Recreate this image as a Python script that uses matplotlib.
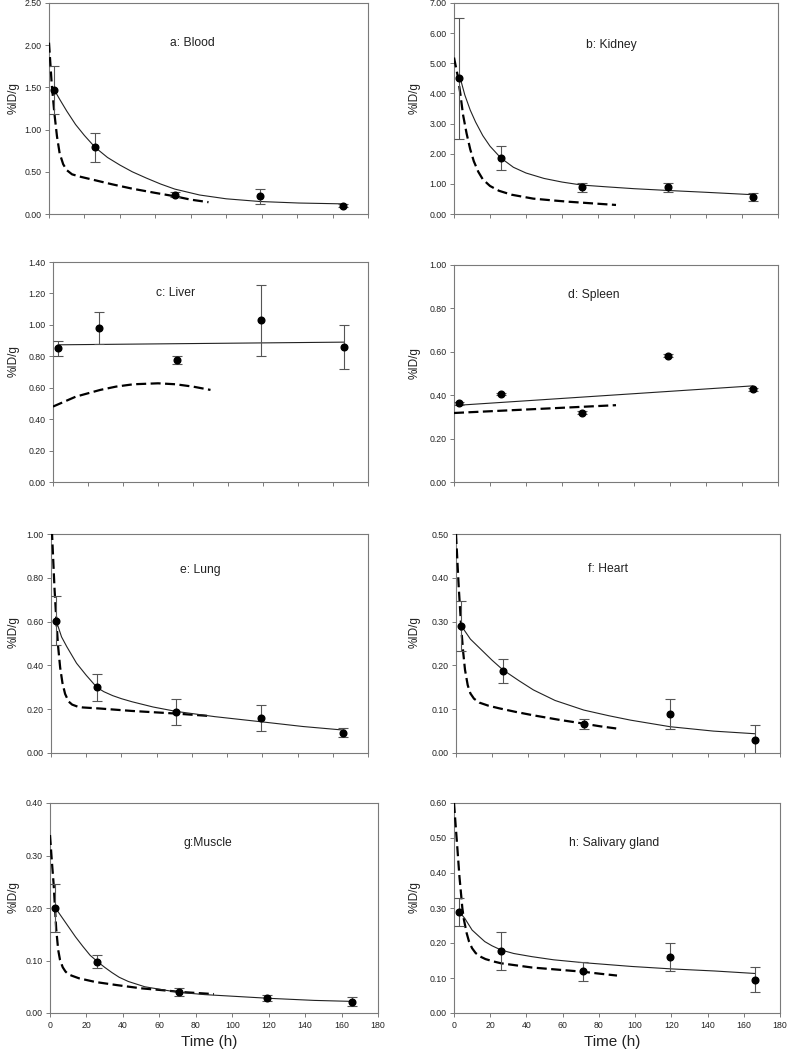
import matplotlib
matplotlib.use('Agg')
import matplotlib.pyplot as plt
from matplotlib.ticker import FormatStrFormatter, MultipleLocator

plt.rcParams['font.family'] = ['Liberation Sans', 'DejaVu Sans']

# ---------------- data ----------------
time_h = [3, 26, 71, 119, 166]
x_ticks = [0, 20, 40, 60, 80, 100, 120, 140, 160, 180]

panel_titles = ['a: Blood', 'b: Kidney', 'c: Liver', 'd: Spleen',
                'e: Lung', 'f: Heart', 'g:Muscle', 'h: Salivary gland']
y_max = [2.5, 7.0, 1.4, 1.0, 1.0, 0.5, 0.4, 0.6]
y_step = [0.5, 1.0, 0.2, 0.2, 0.2, 0.1, 0.1, 0.1]

# measured means and SD
blood_mean = [1.47, 0.79, 0.23, 0.21, 0.10]
blood_sd = [0.28, 0.17, 0.03, 0.09, 0.02]
kidney_mean = [4.50, 1.86, 0.89, 0.88, 0.57]
kidney_sd = [2.00, 0.41, 0.15, 0.15, 0.14]
liver_mean = [0.85, 0.98, 0.775, 1.03, 0.86]
liver_sd = [0.05, 0.10, 0.025, 0.225, 0.14]
spleen_mean = [0.363, 0.406, 0.320, 0.582, 0.427]
spleen_sd = [0.006, 0.006, 0.006, 0.006, 0.006]
lung_mean = [0.603, 0.300, 0.188, 0.160, 0.093]
lung_sd = [0.112, 0.063, 0.058, 0.058, 0.020]
heart_mean = [0.290, 0.187, 0.066, 0.089, 0.029]
heart_sd = [0.056, 0.027, 0.012, 0.034, 0.034]
muscle_mean = [0.200, 0.098, 0.040, 0.029, 0.0215]
muscle_sd = [0.046, 0.012, 0.007, 0.006, 0.009]
salivary_mean = [0.289, 0.177, 0.119, 0.160, 0.095]
salivary_sd = [0.040, 0.054, 0.027, 0.040, 0.036]

# fitted curve (solid)
blood_fit_t = [3, 6, 10, 15, 20, 26, 33, 40, 47, 55, 63, 71, 85, 100, 119, 141, 166]
blood_fit_y = [1.47, 1.36, 1.22, 1.06, 0.93, 0.79, 0.67, 0.58, 0.50, 0.425, 0.355, 0.295,
               0.225, 0.18, 0.148, 0.13, 0.12]
kidney_fit_t = [3.5, 6, 9, 12, 16, 20, 26, 33, 40, 50, 60, 71, 85, 100, 119, 140, 166]
kidney_fit_y = [4.5, 3.95, 3.45, 3.05, 2.6, 2.25, 1.86, 1.55, 1.36, 1.18, 1.06, 0.96,
                0.90, 0.84, 0.78, 0.72, 0.64]
liver_fit_t = [3, 166]
liver_fit_y = [0.873, 0.890]
spleen_fit_t = [3, 166]
spleen_fit_y = [0.354, 0.443]
lung_fit_t = [3, 6, 9, 14.5, 20, 26, 30, 35, 40, 46, 58, 71, 93, 120, 143, 167]
lung_fit_y = [0.603, 0.53, 0.485, 0.41, 0.355, 0.30, 0.28, 0.262, 0.248, 0.234, 0.21,
              0.19, 0.166, 0.142, 0.121, 0.104]
heart_fit_t = [3, 8, 15, 20, 26, 35, 43, 55, 71, 85, 97, 119, 143, 166]
heart_fit_y = [0.29, 0.26, 0.232, 0.212, 0.19, 0.165, 0.144, 0.12, 0.098, 0.085, 0.075,
               0.060, 0.050, 0.044]
muscle_fit_t = [3, 7, 11, 14, 18, 22, 26, 30, 34, 38, 43, 52, 64, 72, 85, 100, 120, 145, 167]
muscle_fit_y = [0.2, 0.18, 0.16, 0.145, 0.127, 0.11, 0.098, 0.087, 0.077, 0.068, 0.06,
                0.05, 0.043, 0.039, 0.035, 0.032, 0.028, 0.024, 0.022]
salivary_fit_t = [3, 6, 10, 14, 17, 21, 26, 33, 43, 55, 71, 98, 120, 144, 166]
salivary_fit_y = [0.289, 0.27, 0.237, 0.218, 0.204, 0.192, 0.18, 0.17, 0.161, 0.152,
                  0.144, 0.133, 0.126, 0.120, 0.113]

# predicted curve (dashed)
blood_pred_t = [0, 1.5, 3, 4.5, 6, 8, 10, 13, 18, 26, 36, 47, 60, 71, 80, 90]
blood_pred_y = [2.03, 1.55, 1.2, 0.92, 0.72, 0.59, 0.52, 0.47, 0.44, 0.40, 0.35, 0.30,
                0.25, 0.21, 0.17, 0.14]
kidney_pred_t = [0, 2, 3.5, 5, 7, 9, 11, 13.5, 16, 20, 25, 32, 44, 55, 63, 75, 90]
kidney_pred_y = [5.19, 4.6, 4.0, 3.3, 2.67, 2.15, 1.75, 1.4, 1.15, 0.93, 0.77, 0.64,
                 0.51, 0.45, 0.41, 0.36, 0.30]
liver_pred_t = [0, 13, 27, 36, 46, 60, 70, 80, 90]
liver_pred_y = [0.48, 0.543, 0.586, 0.607, 0.622, 0.628, 0.622, 0.607, 0.586]
spleen_pred_t = [0, 90]
spleen_pred_y = [0.318, 0.354]
lung_pred_t = [0, 0.6, 2, 3, 4, 5.2, 6.5, 8, 10, 12, 15, 18, 28, 46, 71, 90]
lung_pred_y = [1.15, 1.0, 0.75, 0.61, 0.49, 0.39, 0.32, 0.27, 0.235, 0.221, 0.212,
               0.208, 0.203, 0.192, 0.18, 0.169]
heart_pred_t = [0, 1.5, 3, 4, 5, 6.5, 8, 10, 13, 18, 24, 33, 43, 57, 71, 80, 89]
heart_pred_y = [0.5, 0.38, 0.28, 0.23, 0.19, 0.155, 0.136, 0.124, 0.115, 0.108, 0.102,
                0.094, 0.086, 0.076, 0.067, 0.061, 0.056]
muscle_pred_t = [0, 1, 2, 3.4, 4.5, 5.5, 7, 8.5, 10, 12, 16, 25, 37, 50, 60, 72, 90]
muscle_pred_y = [0.339, 0.29, 0.245, 0.16, 0.12, 0.101, 0.087, 0.079, 0.074, 0.071,
                 0.066, 0.059, 0.053, 0.047, 0.044, 0.040, 0.036]
salivary_pred_t = [0, 1, 1.8, 3, 3.7, 4.6, 5.5, 7, 8.3, 10, 12, 15, 17.4, 22, 26, 43, 57,
                   71, 81, 90]
salivary_pred_y = [0.6, 0.53, 0.475, 0.39, 0.351, 0.30, 0.266, 0.228, 0.204, 0.185,
                   0.171, 0.16, 0.154, 0.147, 0.142, 0.130, 0.124, 0.118, 0.112, 0.107]

means = [blood_mean, kidney_mean, liver_mean, spleen_mean,
         lung_mean, heart_mean, muscle_mean, salivary_mean]
sds = [blood_sd, kidney_sd, liver_sd, spleen_sd, lung_sd, heart_sd, muscle_sd, salivary_sd]
fits = [(blood_fit_t, blood_fit_y), (kidney_fit_t, kidney_fit_y),
        (liver_fit_t, liver_fit_y), (spleen_fit_t, spleen_fit_y),
        (lung_fit_t, lung_fit_y), (heart_fit_t, heart_fit_y),
        (muscle_fit_t, muscle_fit_y), (salivary_fit_t, salivary_fit_y)]
preds = [(blood_pred_t, blood_pred_y), (kidney_pred_t, kidney_pred_y),
         (liver_pred_t, liver_pred_y), (spleen_pred_t, spleen_pred_y),
         (lung_pred_t, lung_pred_y), (heart_pred_t, heart_pred_y),
         (muscle_pred_t, muscle_pred_y), (salivary_pred_t, salivary_pred_y)]

# ---------------- layout (pixel boxes: left, top, right, bottom) ----------------
W, H = 790, 1050
boxes = [(49, 3, 368, 214), (454, 3, 778, 214),
         (53, 262, 368, 482), (454, 265, 778, 482),
         (51, 534, 368, 753), (456, 534, 780, 753),
         (50, 803, 378, 1013), (454, 803, 780, 1013)]
title_pos = [(0.45, 0.81), (0.485, 0.80), (0.39, 0.86), (0.43, 0.86),
             (0.47, 0.835), (0.47, 0.84), (0.48, 0.81), (0.49, 0.81)]
ylabel_px = [14, 415]

fig = plt.figure(figsize=(W / 100, H / 100), dpi=100)
spine_col = '#7a7a7a'
txt_col = '#222222'

for i in range(8):
    l, t, r, b = boxes[i]
    ax = fig.add_axes([l / W, 1 - b / H, (r - l) / W, (b - t) / H])
    for s in ax.spines.values():
        s.set_color(spine_col)
        s.set_linewidth(0.8)
    ax.set_xlim(0, 180)
    ax.set_ylim(0, y_max[i])
    ax.set_xticks(x_ticks)
    ax.yaxis.set_major_locator(MultipleLocator(y_step[i]))
    ax.yaxis.set_major_formatter(FormatStrFormatter('%.2f'))
    ax.tick_params(direction='out', length=3, width=0.7, color=spine_col,
                   labelsize=6.3, labelcolor=txt_col, pad=2.5)
    if i < 6:
        ax.tick_params(axis='x', labelbottom=False)

    pt, py = preds[i]
    ax.plot(pt, py, color='black', lw=1.6, dashes=(4.5, 2.0), zorder=3)
    ft, fy = fits[i]
    ax.plot(ft, fy, color='#222222', lw=0.8, zorder=3)
    ax.errorbar(time_h, means[i], yerr=sds[i], fmt='none', ecolor='#555555',
                elinewidth=0.8, capsize=3.5, capthick=0.8, zorder=4)
    ax.plot(time_h, means[i], 'o', color='black', ms=4.8, zorder=5)

    ax.text(title_pos[i][0], title_pos[i][1], panel_titles[i], transform=ax.transAxes,
            ha='center', va='center', fontsize=8.7, color=txt_col)

    lx = ylabel_px[i % 2]
    ax.set_ylabel('%ID/g', fontsize=8.5, color=txt_col, va='center')
    ax.yaxis.set_label_coords((lx - l) / (r - l), 0.55)

    if i >= 6:
        fig.text(((l + r) / 2 - 5) / W, 1 - 1042 / H, 'Time (h)', ha='center',
                 va='center', fontsize=11, color=txt_col)

fig.savefig('out.png', dpi=100, facecolor='white')
